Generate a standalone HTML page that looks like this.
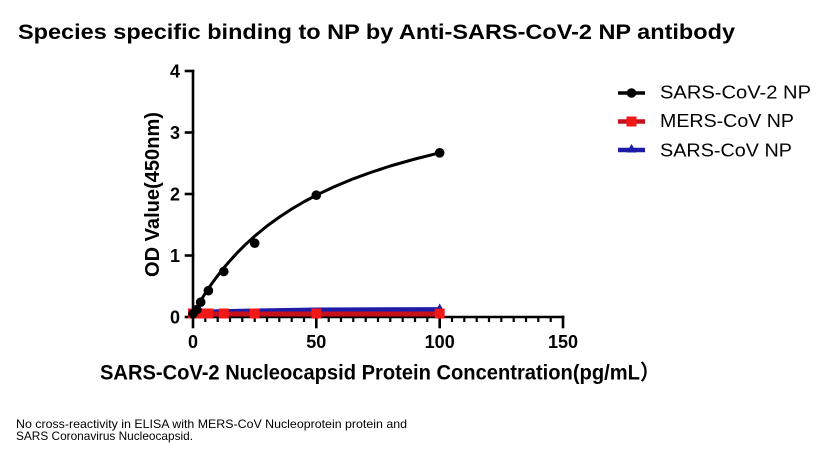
<!DOCTYPE html>
<html>
<head>
<meta charset="utf-8">
<style>
html,body{margin:0;padding:0;background:#fff;}
svg{display:block;}
</style>
</head>
<body>
<svg width="830" height="450" viewBox="0 0 830 450" xmlns="http://www.w3.org/2000/svg">
<rect width="830" height="450" fill="#fff"/>
<!-- Title -->
<text x="18" y="39" font-family="Liberation Sans, sans-serif" font-weight="bold" font-size="21" fill="#000" textLength="717" lengthAdjust="spacingAndGlyphs">Species specific binding to NP by Anti-SARS-CoV-2 NP antibody</text>

<!-- Axes -->
<g stroke="#000" stroke-width="2.6" fill="none" stroke-linecap="square">
  <line x1="193" y1="71" x2="193" y2="317"/>
  <line x1="193" y1="317" x2="563" y2="317"/>
  <line x1="186" y1="71" x2="193" y2="71"/>
  <line x1="186" y1="132.5" x2="193" y2="132.5"/>
  <line x1="186" y1="194" x2="193" y2="194"/>
  <line x1="186" y1="255.5" x2="193" y2="255.5"/>
  <line x1="186" y1="317" x2="193" y2="317"/>
  <line x1="193" y1="317" x2="193" y2="327"/>
  <line x1="316.3" y1="317" x2="316.3" y2="327"/>
  <line x1="439.7" y1="317" x2="439.7" y2="327"/>
  <line x1="563" y1="317" x2="563" y2="327"/>
</g>
<g stroke="#000" stroke-width="2.2" fill="none">
  <line x1="205.3" y1="317" x2="205.3" y2="322"/>
  <line x1="217.7" y1="317" x2="217.7" y2="322"/>
  <line x1="230" y1="317" x2="230" y2="322"/>
  <line x1="242.3" y1="317" x2="242.3" y2="322"/>
  <line x1="254.7" y1="317" x2="254.7" y2="322"/>
  <line x1="267" y1="317" x2="267" y2="322"/>
  <line x1="279.3" y1="317" x2="279.3" y2="322"/>
  <line x1="291.7" y1="317" x2="291.7" y2="322"/>
  <line x1="304" y1="317" x2="304" y2="322"/>
  <line x1="328.7" y1="317" x2="328.7" y2="322"/>
  <line x1="341" y1="317" x2="341" y2="322"/>
  <line x1="353.3" y1="317" x2="353.3" y2="322"/>
  <line x1="365.7" y1="317" x2="365.7" y2="322"/>
  <line x1="378" y1="317" x2="378" y2="322"/>
  <line x1="390.3" y1="317" x2="390.3" y2="322"/>
  <line x1="402.7" y1="317" x2="402.7" y2="322"/>
  <line x1="415" y1="317" x2="415" y2="322"/>
  <line x1="427.3" y1="317" x2="427.3" y2="322"/>
  <line x1="452" y1="317" x2="452" y2="322"/>
  <line x1="464.3" y1="317" x2="464.3" y2="322"/>
  <line x1="476.7" y1="317" x2="476.7" y2="322"/>
  <line x1="489" y1="317" x2="489" y2="322"/>
  <line x1="501.3" y1="317" x2="501.3" y2="322"/>
  <line x1="513.7" y1="317" x2="513.7" y2="322"/>
  <line x1="526" y1="317" x2="526" y2="322"/>
  <line x1="538.3" y1="317" x2="538.3" y2="322"/>
  <line x1="550.7" y1="317" x2="550.7" y2="322"/>
</g>

<!-- Tick labels -->
<g font-family="Liberation Sans, sans-serif" font-weight="bold" font-size="18" fill="#000">
  <text x="180" y="77.5" text-anchor="end">4</text>
  <text x="180" y="139" text-anchor="end">3</text>
  <text x="180" y="200.5" text-anchor="end">2</text>
  <text x="180" y="262" text-anchor="end">1</text>
  <text x="180" y="323.5" text-anchor="end">0</text>
  <text x="193" y="348" text-anchor="middle">0</text>
  <text x="316.3" y="348" text-anchor="middle">50</text>
  <text x="439.7" y="348" text-anchor="middle">100</text>
  <text x="563" y="348" text-anchor="middle">150</text>
</g>

<!-- Axis titles -->
<text transform="translate(159,277) rotate(-90)" font-family="Liberation Sans, sans-serif" font-weight="bold" font-size="20" fill="#000" textLength="165" lengthAdjust="spacingAndGlyphs">OD Value(450nm)</text>
<text x="100" y="379.5" font-family="Liberation Sans, 'Noto Sans CJK SC', sans-serif" font-weight="bold" font-size="21" fill="#000" textLength="560" lengthAdjust="spacingAndGlyphs">SARS-CoV-2 Nucleocapsid Protein Concentration(pg/mL）</text>

<!-- Blue series -->
<polyline points="193,312.7 196.9,312.5 200.7,312.3 208.4,312 223.8,311.6 254.7,311 316.3,310 439.7,309.6" fill="none" stroke="#1c1ca8" stroke-width="5" stroke-linejoin="round"/>
<polygon points="439.7,303.5 444.5,312 434.9,312" fill="#1c1ca8"/>

<!-- Red series -->
<polyline points="193,314 196.9,314 200.7,314 208.4,314 223.8,314 254.7,314 316.3,314 439.7,314" fill="none" stroke="#c8101c" stroke-width="5" stroke-linejoin="round"/>
<g fill="#f01818">
  <rect x="188" y="308.5" width="10" height="10"/>
  <rect x="191.9" y="308.5" width="10" height="10"/>
  <rect x="195.7" y="308.5" width="10" height="10"/>
  <rect x="203.4" y="308.5" width="10" height="10"/>
  <rect x="218.8" y="308.5" width="10" height="10"/>
  <rect x="249.7" y="308.5" width="10" height="10"/>
  <rect x="311.3" y="308.5" width="10" height="10"/>
  <rect x="434.7" y="308.5" width="10" height="10"/>
</g>

<!-- Black series -->
<polyline points="193,313.9 195,310 197.9,305.2 200.5,301 202.9,297.1 205.5,292.8 208.4,288.6 211.5,284 215.2,279 219.5,273.3 223.8,267.9 230,260.7 237.4,252.6 244.8,245.2 254.7,236.1 267,226 279.3,217.1 291.7,209 304,201.75 316.3,195.2 333.6,187 353.3,178.8 370.6,172.5 390.3,166 415,159 439.7,152.8" fill="none" stroke="#000" stroke-width="3" stroke-linejoin="round" stroke-linecap="round"/>
<g fill="#000">
  <circle cx="193" cy="313.9" r="4.8"/>
  <circle cx="196.9" cy="309.6" r="4.8"/>
  <circle cx="200.7" cy="302.2" r="4.8"/>
  <circle cx="208.4" cy="290.7" r="4.8"/>
  <circle cx="223.8" cy="271.5" r="4.8"/>
  <circle cx="254.7" cy="243.2" r="4.8"/>
  <circle cx="316.3" cy="195.2" r="4.8"/>
  <circle cx="439.7" cy="152.8" r="4.8"/>
</g>

<!-- Legend -->
<line x1="618" y1="93" x2="645" y2="93" stroke="#000" stroke-width="3.5"/>
<circle cx="631.5" cy="93" r="4.8" fill="#000"/>
<line x1="618" y1="121.5" x2="645" y2="121.5" stroke="#c8101c" stroke-width="4.5"/>
<rect x="626.5" y="116.5" width="10" height="10" fill="#f01818"/>
<line x1="618" y1="150" x2="645" y2="150" stroke="#1c1ca8" stroke-width="4.5"/>
<polygon points="631.5,144 636.5,152.5 626.5,152.5" fill="#1c1ca8"/>
<g font-family="Liberation Sans, sans-serif" font-size="18.5" fill="#000">
  <text x="660" y="98.3" textLength="151" lengthAdjust="spacingAndGlyphs">SARS-CoV-2 NP</text>
  <text x="660" y="127" textLength="134" lengthAdjust="spacingAndGlyphs">MERS-CoV NP</text>
  <text x="660" y="156.5" textLength="132" lengthAdjust="spacingAndGlyphs">SARS-CoV NP</text>
</g>

<!-- Footnote -->
<g font-family="Liberation Sans, sans-serif" font-size="12" fill="#000">
  <text x="16" y="428" textLength="391" lengthAdjust="spacingAndGlyphs">No cross-reactivity in ELISA with MERS-CoV Nucleoprotein protein and</text>
  <text x="16" y="440" textLength="177" lengthAdjust="spacingAndGlyphs">SARS Coronavirus Nucleocapsid.</text>
</g>
</svg>
</body>
</html>
